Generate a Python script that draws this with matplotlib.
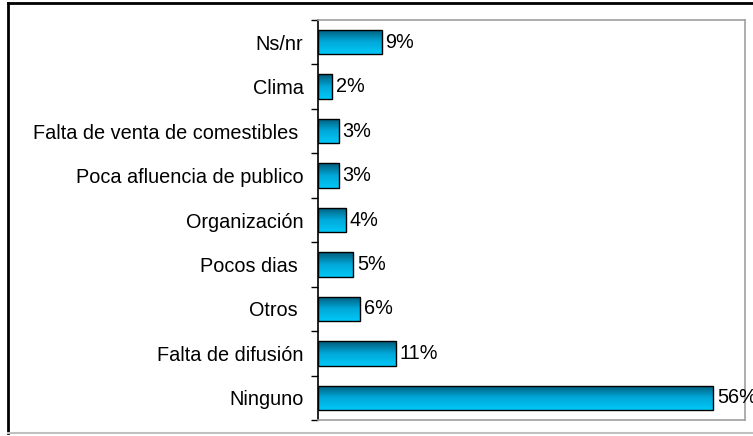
import matplotlib.pyplot as plt
import numpy as np
from matplotlib.colors import LinearSegmentedColormap
from matplotlib.lines import Line2D

plt.rcParams["font.family"] = ["Liberation Sans", "DejaVu Sans"]

categories = ["Ninguno", "Falta de difusión", "Otros ", "Pocos dias ", "Organización",
              "Poca afluencia de publico", "Falta de venta de comestibles ", "Clima", "Ns/nr"]
values = [56, 11, 6, 5, 4, 3, 3, 2, 9]

fig = plt.figure(figsize=(7.53, 4.36), dpi=100)
ax = fig.add_axes([318/753, 1-420/436, (745-318)/753, 400/436])

y = np.arange(len(categories))
bars = ax.barh(y, values, height=0.55, color="none", edgecolor="black", linewidth=1, zorder=3)

cmap = LinearSegmentedColormap.from_list("g", ["#00c8f8", "#00a8d8", "#005a78"])
grad = np.linspace(0, 1, 100).reshape(-1, 1)
for b in bars:
    x0, y0 = b.get_x(), b.get_y()
    w, h = b.get_width(), b.get_height()
    im = ax.imshow(grad, cmap=cmap, aspect="auto", extent=[x0, x0 + w, y0, y0 + h],
                   origin="lower", zorder=2)
    im.set_clip_path(b)
    ax.text(x0 + w + 0.5, y0 + h / 2, f"{int(w)}%", va="center", ha="left",
            fontsize=14.3, zorder=4, clip_on=False)

ax.set_xlim(0, 60.5)
ax.set_ylim(-0.5, len(categories) - 0.5)
ax.set_xticks([])
ax.set_yticks(y)
ax.set_yticklabels(categories, fontsize=14.3)
ax.tick_params(axis="y", length=0, pad=10.5)
ax.set_yticks(np.arange(-0.5, len(categories)), minor=True)
ax.tick_params(axis="y", which="minor", length=5, width=1, color="black")

for s in ["top", "right", "bottom"]:
    ax.spines[s].set_color("#a0a0a0")
    ax.spines[s].set_linewidth(1.2)
ax.spines["left"].set_color("black")
ax.spines["left"].set_linewidth(1.2)

# outer frame
fig.add_artist(Line2D([8/753, 8/753], [1-3/436, 1-433/436], color="black", lw=2, transform=fig.transFigure))
fig.add_artist(Line2D([8/753, 1], [1-3/436, 1-3/436], color="black", lw=2, transform=fig.transFigure))
fig.add_artist(Line2D([8/753, 1], [1-433/436, 1-433/436], color="#c0c0c0", lw=1.5, transform=fig.transFigure))

fig.savefig("out.png", dpi=100)
